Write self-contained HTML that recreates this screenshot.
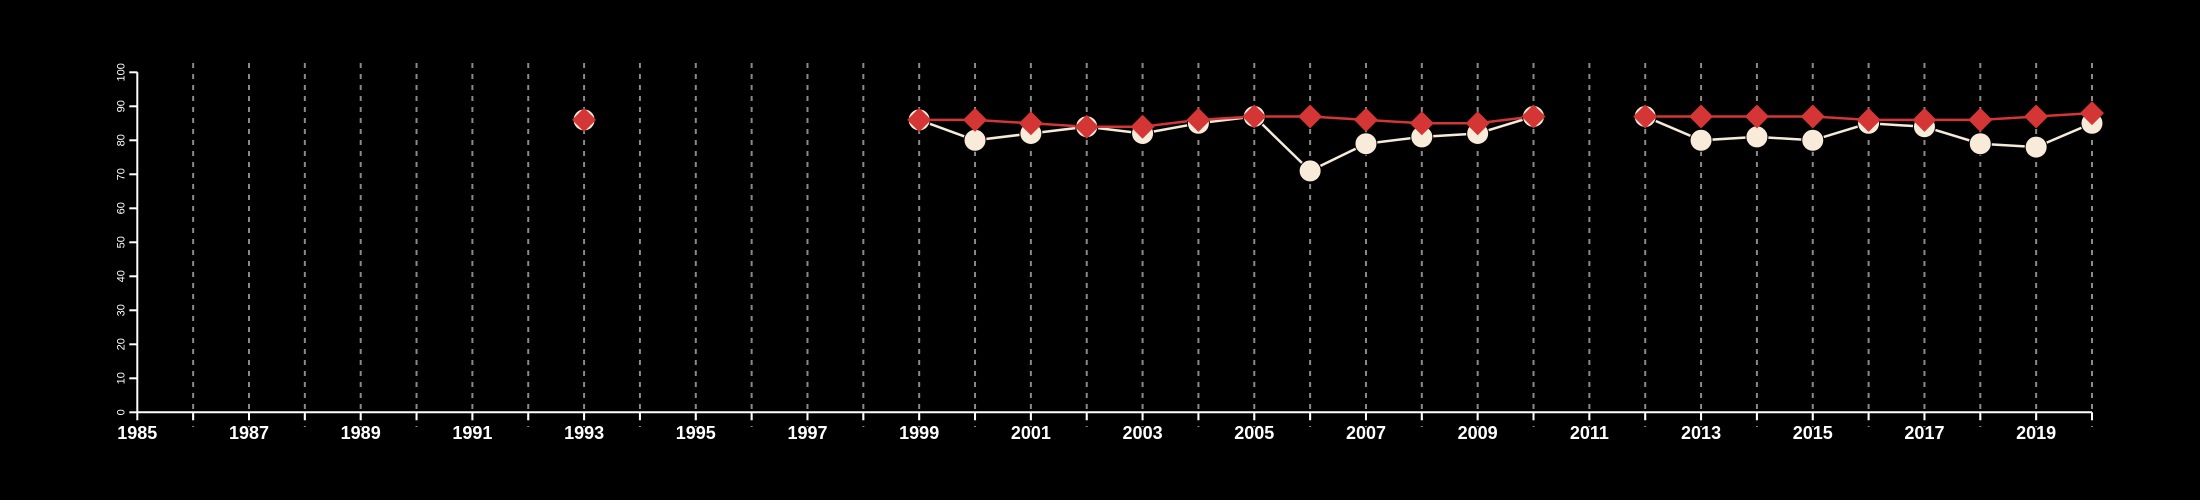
<!DOCTYPE html>
<html><head><meta charset="utf-8"><style>
html,body{margin:0;padding:0;background:#000;}
svg{display:block;font-family:"Liberation Sans",Arial,sans-serif;}
</style></head><body>
<svg id="chart" width="2200" height="500" xmlns="http://www.w3.org/2000/svg">
<rect width="2200" height="500" fill="#000"/>
<g id="grid"></g>
<g id="axes"></g>
<g id="series"></g>
</svg>
<script>
const years = [1993,1999,2000,2001,2002,2003,2004,2005,2006,2007,2008,2009,2010,2011,2012,2013,2014,2015,2016,2017,2018,2019,2020];
const circleValues = [86,86,80,82,84,82,85,87,71,79,81,82,87,null,87,80,81,80,85,84,79,78,85];
const diamondValues = [86,86,86,85,84,84,86,87,87,86,85,85,87,null,87,87,87,87,86,86,86,87,88];
const yTicks = [0,10,20,30,40,50,60,70,80,90,100];
const xLabels = [1985,1987,1989,1991,1993,1995,1997,1999,2001,2003,2005,2007,2009,2011,2013,2015,2017,2019];
const xMin = 1985, xMax = 2020;

const NS = "http://www.w3.org/2000/svg";
const X0 = 137.3, X1 = 2092, Y0 = 412.3, Y1 = 72.3;
function xs(v){ return X0 + (v - xMin) * (X1 - X0) / (xMax - xMin); }
function ys(v){ return Y0 - v * (Y0 - Y1) / 100; }
function mk(tag, attrs, parent){ const e = document.createElementNS(NS, tag); for (const k in attrs) e.setAttribute(k, attrs[k]); parent.appendChild(e); return e; }

const grid = document.getElementById('grid');
const axes = document.getElementById('axes');
const series = document.getElementById('series');

for (let y = xMin + 1; y <= xMax; y++) {
  const l = mk('line', {x1: xs(y), x2: xs(y), y1: 63, y2: 427, stroke: '#8a8a8a', 'stroke-width': 2, 'stroke-dasharray': '5,6'}, grid);
  
  
}

const xa = mk('line', {x1: xs(xMin), x2: xs(xMax), y1: Y0, y2: Y0, stroke: '#fff', 'stroke-width': 2}, axes);


const ya = mk('line', {x1: X0, x2: X0, y1: Y0, y2: Y1, stroke: '#fff', 'stroke-width': 2}, axes);



for (let y = xMin; y <= xMax; y++) {
  const t = mk('line', {x1: xs(y), x2: xs(y), y1: Y0, y2: Y0 + 8, stroke: '#fff', 'stroke-width': 2}, axes);
  
  
}
xLabels.forEach(y => {
  const t = mk('text', {x: xs(y), y: 439, fill: '#fff', 'font-size': 18, 'font-weight': 'bold', 'text-anchor': 'middle'}, axes);
  t.textContent = y;
  
  
});
yTicks.forEach(v => {
  const t = mk('line', {x1: X0 - 8, x2: X0, y1: ys(v), y2: ys(v), stroke: '#fff', 'stroke-width': 2}, axes);
  
  
  const lb = mk('text', {x: 0, y: 0, fill: '#fff', 'font-size': 11, 'text-anchor': 'middle', transform: 'translate(' + (X0 - 13) + ',' + ys(v) + ') rotate(-90)'}, axes);
  lb.textContent = v;
  
  
});

function drawLine(vals, color, name) {
  let seg = [];
  const segs = [];
  vals.forEach((v, i) => {
    if (v === null || (i > 0 && years[i] - years[i-1] > 1)) { if (seg.length) segs.push(seg); seg = []; }
    if (v !== null) seg.push([xs(years[i]), ys(v)]);
  });
  if (seg.length) segs.push(seg);
  segs.forEach((s, k) => {
    if (s.length < 2) return;
    const p = mk('polyline', {points: s.map(q => q.join(',')).join(' '), fill: 'none', stroke: color, 'stroke-width': 2.5}, series);
    
    
  });
}
drawLine(circleValues, '#f6ead8', 'circle-series');
drawLine(diamondValues, '#d43535', 'diamond-series');

circleValues.forEach((v, i) => {
  if (v === null) return;
  const c = mk('circle', {cx: xs(years[i]), cy: ys(v), r: 11, fill: '#f8ebd9', stroke: '#000', 'stroke-width': 1}, series);
  
  
});
diamondValues.forEach((v, i) => {
  if (v === null) return;
  const x = xs(years[i]), y = ys(v), s = 12;
  const d = mk('polygon', {points: [x, y - s, x + s, y, x, y + s, x - s, y].join(' ').replace(/(\S+) (\S+)/g, '$1,$2'), fill: '#d43535'}, series);
  
  
});
</script>
</body></html>
